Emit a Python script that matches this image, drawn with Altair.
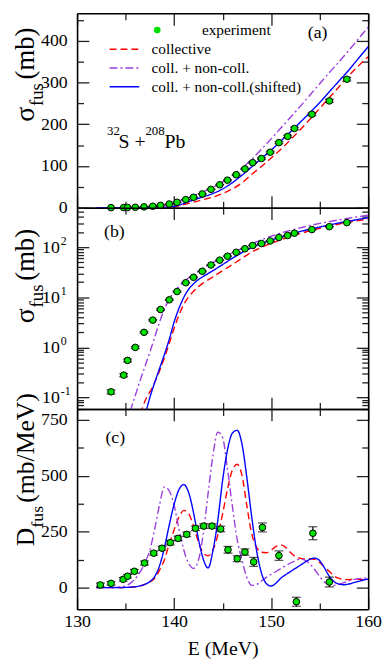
import altair as alt
import pandas as pd

# ---------------- data ----------------
MODELS = ["collective", "coll. + non-coll.", "coll. + non-coll.(shifted)"]

# experiment: fusion cross section (mb)
E_exp = [133.5, 134.8, 135.2, 136.0, 136.9, 137.8, 138.6, 139.5, 140.3, 141.2, 142.0, 142.9, 143.8,
         144.7, 145.5, 146.4, 147.3, 148.1, 149.0, 149.9, 150.8, 151.7, 152.4, 154.2, 156.0, 157.8]
sig_exp = [0.13, 0.28, 0.55, 1.0, 2.0, 3.5, 5.7, 8.9, 13, 19.5, 25, 33, 44,
           55, 66, 79, 93, 108, 118, 133, 156, 171, 190, 224, 256, 308]
sig_err = [0.012, 0.02, 0.035, 0.05, 0.08, 0.12, 0.18, 0.25, 0.35, 0.5, 0.6, 0.7, 0.9,
           1.0, 1.2, 1.4, 1.6, 1.8, 2.0, 2.2, 2.5, 2.7, 3.0, 3.3, 3.7, 4.2]

# experiment: barrier distribution (mb/MeV)
E_D = [132.4, 133.5, 134.75, 135.2, 135.9, 136.95, 137.9, 138.75, 139.6, 140.4, 141.3, 142.2,
       143.05, 143.9, 144.8, 145.55, 146.5, 147.3, 148.2, 149.1, 150.8, 152.6, 154.3, 156.0]
D_exp = [12, 19, 37, 51, 73, 110, 154, 176, 201, 220, 238, 265,
         275, 275, 262, 169, 129, 159, 115, 269, 143, -63, 243, 25]
D_err = [8, 8, 8, 8, 8, 9, 9, 9, 10, 10, 10, 10,
         10, 10, 12, 15, 13, 14, 20, 20, 21, 20, 29, 22]

# theory: cross sections (mb)
E_th = [132, 133, 134, 135, 135.5, 136, 136.5, 137, 137.5, 138, 138.5, 139, 139.5, 140, 140.5,
        141, 141.5, 142, 142.5, 143, 144, 145, 146, 147, 148, 149, 150, 151, 152, 153, 154,
        155, 156, 157, 158, 159, 160]
sig_coll = [1e-4, 3e-4, 0.001, 0.004, 0.009, 0.02, 0.045, 0.085, 0.13, 0.2, 0.34, 0.62, 1.2, 2.4, 4.4,
            7.2, 10.2, 13.2, 16.3, 19.3, 25.5, 34, 45, 60, 80, 99, 119, 140, 163, 187, 212,
            238, 264, 290, 316, 340, 362]
sig_nc = [2e-4, 0.001, 0.006, 0.025, 0.055, 0.11, 0.22, 0.42, 0.8, 1.6, 3.2, 5.8, 9.2, 12.8, 16.5,
          20.5, 24.5, 28.5, 33, 38, 49, 62, 77, 95, 116, 140, 165, 191, 217, 243, 270,
          297, 324, 350, 377, 405, 433]
sig_shift = [1e-4, 3e-4, 0.001, 0.003, 0.006, 0.012, 0.025, 0.045, 0.1, 0.2, 0.38, 0.72, 1.45, 3.2, 6.0,
             10, 14.5, 18.5, 22.5, 26, 34, 45, 60, 78, 98, 118, 138, 160, 182, 205, 228,
             252, 278, 304, 330, 358, 386]

# theory: barrier distributions (mb/MeV)
E_Dth = [132, 133, 134, 134.5, 135, 135.5, 136, 136.5, 137, 137.5, 138, 138.5, 139, 139.5,
         140, 140.5, 141, 141.5, 142, 142.5, 143, 143.5, 144, 144.5, 145, 145.5, 146, 146.5,
         147, 147.5, 148, 148.5, 149, 149.5, 150, 150.5, 151, 151.5, 152, 152.5, 153, 153.5,
         154, 154.5, 155, 155.5, 156, 156.5, 157, 157.5, 158, 158.5, 159, 159.5, 160]
D_coll = [0, 0, 0, 0.5, 1, 2, 4, 8, 15, 25, 42, 78, 125, 195,
          258, 315, 345, 330, 275, 205, 155, 142, 168, 235, 330, 440, 525, 551,
          500, 365, 240, 180, 158, 156, 167, 184, 191, 180, 157, 139, 131, 128,
          129, 127, 112, 92, 72, 52, 41, 37, 36, 37, 37, 37, 37]
D_nc = [0, 0, 1, 3, 8, 20, 40, 70, 112, 168, 262, 370, 450, 432,
        368, 262, 168, 108, 86, 122, 240, 420, 590, 695, 670, 530, 365, 215,
        122, 45, 10, 14, 30, 46, 59, 72, 85, 98, 110, 120, 128, 122,
        106, 80, 50, 25, 12, 10, 15, 22, 30, 36, 40, 42, 44]
D_shift = [0, 0, 0, 0, 1, 2, 4, 8, 15, 27, 50, 98, 178, 280,
           372, 438, 460, 425, 335, 218, 128, 88, 165, 300, 480, 615, 690, 703,
           640, 490, 315, 165, 66, 18, 7, 20, 42, 58, 72, 86, 100, 114,
           127, 132, 120, 88, 50, 26, 16, 13, 16, 22, 28, 34, 38]

# ---------------- tables ----------------
df_th = pd.concat([
    pd.DataFrame({"E": E_th, "v": s, "model": m})
    for m, s in zip(MODELS, [sig_coll, sig_nc, sig_shift])
])
df_Dth = pd.concat([
    pd.DataFrame({"E": E_Dth, "v": s, "model": m})
    for m, s in zip(MODELS, [D_coll, D_nc, D_shift])
])
df_exp = pd.DataFrame({"E": E_exp, "v": sig_exp,
                       "lo": [a - b for a, b in zip(sig_exp, sig_err)],
                       "hi": [a + b for a, b in zip(sig_exp, sig_err)],
                       "lab": "experiment"})
df_D = pd.DataFrame({"E": E_D, "v": D_exp,
                     "lo": [a - b for a, b in zip(D_exp, D_err)],
                     "hi": [a + b for a, b in zip(D_exp, D_err)],
                     "lab": "experiment"})

# ---------------- style ----------------
FONT = "Liberation Serif, Times New Roman, DejaVu Serif, serif"
GREEN = "#00e000"
COLORS = ["#ff0000", "#9a3ee0", "#0000ff"]
DASHES = [[7, 4], [8, 3, 2, 3], [1, 0]]
W = 295
HA, HB, HC = 197, 204, 203
MAJ, MIN = 12, 6.5
TX = -44  # baseline of the rotated y titles, relative to the plot's left edge

xs = alt.Scale(domain=[130, 160], nice=False, zero=False)
color_scale = alt.Scale(domain=MODELS, range=COLORS)
dash_scale = alt.Scale(domain=MODELS, range=DASHES)

X_VALS = [130, 135, 140, 145, 150, 155, 160]
X_EXPR = f"datum.value % 10 === 0 ? {MAJ} : {MIN}"


def tick_axis(orient, offset, values, expr, domain=True):
    return alt.Axis(orient=orient, offset=offset, values=values, labels=False, title=None,
                    domain=domain, domainColor="black", domainWidth=1.6,
                    ticks=True, tickSize=alt.ExprRef(expr), tickColor="#222", tickWidth=1.3,
                    grid=False)


def ylab_axis(values, expr=None, padding=10, align="right", offset=0, size=18, domain=True):
    kw = dict(orient="left", values=values, ticks=False, tickSize=0, domain=domain,
              domainColor="black", domainWidth=1.6, labels=True, labelFont=FONT,
              labelFontSize=size, labelColor="black", labelPadding=padding, labelAlign=align,
              labelOffset=offset, title=None, grid=False, labelOverlap=False, labelFlush=False)
    if expr:
        kw["labelExpr"] = expr
    return alt.Axis(**kw)


def text(t, x, y, size, angle=0, align="left"):
    kw = dict(font=FONT, fontSize=size, color="black", align=align, baseline="alphabetic")
    if angle:
        kw["angle"] = angle
    return alt.Chart(pd.DataFrame({"k": [0]})).mark_text(**kw).encode(
        x=alt.value(x), y=alt.value(y), text=alt.value(t))


def panel(df_lines, df_pts, ys, H, yvals, yexpr, ylabel_axes, x_label_axis=None,
          line_legend=None, pt_legend=None, extra=()):
    ylab1 = ylabel_axes[0]
    ylab2 = ylabel_axes[1] if len(ylabel_axes) > 1 else None
    lines = alt.Chart(df_lines).mark_line(clip=True, strokeWidth=1.4, interpolate="monotone").encode(
        x=alt.X("E:Q", scale=xs, axis=tick_axis("top", -H, X_VALS, X_EXPR)),
        y=alt.Y("v:Q", scale=ys, axis=ylab1),
        color=alt.Color("model:N", scale=color_scale, legend=line_legend),
        strokeDash=alt.StrokeDash("model:N", scale=dash_scale, legend=line_legend),
    )
    rules = alt.Chart(df_pts).mark_rule(color="black", strokeWidth=1.2).encode(
        x=alt.X("E:Q", scale=xs, axis=tick_axis("bottom", -H, X_VALS, X_EXPR)),
        y=alt.Y("lo:Q", scale=ys, axis=tick_axis("right", -W, yvals, yexpr, domain=False)),
        y2="hi:Q",
    )
    cap_lo = alt.Chart(df_pts).mark_tick(orient="horizontal", size=9, thickness=1.2, color="black").encode(
        x=alt.X("E:Q", scale=xs, axis=x_label_axis),
        y=alt.Y("lo:Q", scale=ys, axis=tick_axis("left", -W, yvals, yexpr)),
    )
    cap_hi = alt.Chart(df_pts).mark_tick(orient="horizontal", size=9, thickness=1.2, color="black").encode(
        x=alt.X("E:Q", scale=xs, axis=None),
        y=alt.Y("hi:Q", scale=ys, axis=ylab2),
    )
    pts_enc = dict(x=alt.X("E:Q", scale=xs, axis=None), y=alt.Y("v:Q", scale=ys, axis=None))
    if pt_legend is not None:
        pts_enc["shape"] = alt.Shape("lab:N", scale=alt.Scale(domain=["experiment"], range=["circle"]),
                                     legend=pt_legend)
    pts = alt.Chart(df_pts).mark_point(filled=True, size=45, fill=GREEN, stroke="black",
                                       strokeWidth=1, opacity=1).encode(**pts_enc)
    return alt.layer(lines, rules, cap_lo, cap_hi, pts, *extra).resolve_axis(
        x="independent", y="independent").properties(width=W, height=H)


# ---------------- panel (a) ----------------
line_legend = alt.Legend(title=None, orient="none", legendX=32, legendY=27.3, clipHeight=18.2,
                         rowPadding=0, padding=0, symbolSize=900, symbolStrokeWidth=1.5,
                         symbolType="stroke", labelFont=FONT, labelFontSize=15.5,
                         labelColor="black", labelOffset=11.5, labelLimit=400)
exp_legend = alt.Legend(title=None, orient="none", legendX=73.5, legendY=8, clipHeight=18,
                        padding=0, symbolSize=45, labelFont=FONT, labelFontSize=15.5,
                        labelColor="black", labelOffset=37.5, symbolStrokeColor="black",
                        symbolFillColor=GREEN, symbolStrokeWidth=1, labelLimit=400)

ys_a = alt.Scale(domain=[0, 466], nice=False, zero=False)
texts_a = [
    text("(a)", 243.7, 25.4, 18, align="center"),
    text("32", 30.3, 123.7, 13), text("S +", 42, 136, 20),
    text("208", 69.3, 123.7, 13), text("Pb", 88.7, 136, 20),
    text("σ", TX, 110, 28, angle=270), text("fus", TX + 9, 94, 19, angle=270),
    text("(mb)", TX, 67, 27, angle=270),
]
pa = panel(df_th, df_exp, ys_a, HA, list(range(0, 451, 50)),
           "datum.value % 100 === 0 ? 12 : 6.5",
           [ylab_axis([0, 100, 200, 300, 400])],
           line_legend=line_legend, pt_legend=exp_legend, extra=texts_a)

# ---------------- panel (b) ----------------
ys_b = alt.Scale(type="log", domain=[0.059, 612], nice=False)
LOG_VALS = [0.06, 0.07, 0.08, 0.09, 0.1, 0.2, 0.3, 0.4, 0.5, 0.6, 0.7, 0.8, 0.9,
            1, 2, 3, 4, 5, 6, 7, 8, 9, 10, 20, 30, 40, 50, 60, 70, 80, 90,
            100, 200, 300, 400, 500, 600]
LOG_EXPR = "abs(log(datum.value)/LN10 - round(log(datum.value)/LN10)) < 0.001 ? 12 : 6.5"
texts_b = [
    text("(b)", 37.8, 29.7, 18, align="center"),
    text("σ", TX, 117, 28, angle=270), text("fus", TX + 9, 101, 19, angle=270),
    text("(mb)", TX, 74, 27, angle=270),
]
pb = panel(df_th, df_exp, ys_b, HB, LOG_VALS, LOG_EXPR,
           [ylab_axis([0.1, 1, 10, 100], expr="'10'", padding=18),
            ylab_axis([0.1, 1, 10, 100],
                      expr="datum.value < 0.5 ? '-1' : datum.value < 5 ? '0' : datum.value < 50 ? '1' : '2'",
                      padding=17, align="left", offset=-7, size=12, domain=False)],
           extra=texts_b)

# ---------------- panel (c) ----------------
ys_c = alt.Scale(domain=[-97, 798], nice=False, zero=False)
x_lab = alt.Axis(orient="bottom", values=[130, 140, 150, 160], ticks=False, tickSize=0, domain=False,
                 labels=True, labelFont=FONT, labelFontSize=18, labelColor="black", labelPadding=3,
                 labelFlush=False, labelOverlap=False, title="E (MeV)", titleFont=FONT,
                 titleFontSize=20, titleFontWeight="normal", titleColor="black", titlePadding=9,
                 grid=False)
texts_c = [
    text("(c)", 38.7, 34, 18, align="center"),
    text("D", TX, 139, 26, angle=270), text("fus", TX + 9, 120.2, 18, angle=270),
    text("(mb/MeV)", TX, 95, 26, angle=270),
]
pc = panel(df_Dth, df_D, ys_c, HC, list(range(0, 751, 125)),
           "datum.value % 250 === 0 ? 12 : 6.5",
           [ylab_axis([0, 250, 500, 750])], x_label_axis=x_lab, extra=texts_c)

chart = alt.vconcat(pa, pb, pc, spacing=0, bounds="flush").properties(
    padding={"left": 4, "top": 0, "right": 0, "bottom": 0}
).configure_view(stroke=None)

chart.save("out.html", embed_options={"renderer": "svg", "actions": False})
